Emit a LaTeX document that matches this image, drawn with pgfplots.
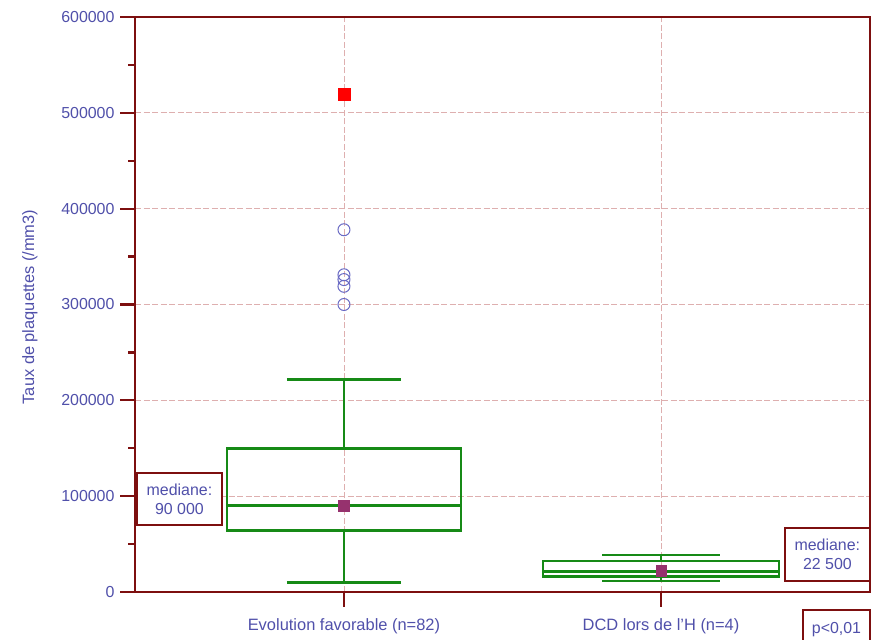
\documentclass[border=0pt]{standalone}
\usepackage{pgfplots}
\pgfplotsset{compat=1.18}
\usepackage{fontspec}
\setmainfont{Liberation Sans}
\definecolor{axiscol}{RGB}{125,15,15}
\definecolor{gridcol}{RGB}{222,175,175}
\definecolor{textcol}{RGB}{80,80,170}
\definecolor{boxgreen}{RGB}{22,138,22}
\definecolor{meancol}{RGB}{150,50,110}
\definecolor{outcol}{RGB}{105,105,195}
\newcommand{\ff}{\fontsize{16.5}{19}\selectfont}
\newcommand{\ft}{\fontsize{16}{19}\selectfont}
\begin{document}
\begin{tikzpicture}
\path[use as bounding box] (0,0) rectangle (877bp,640bp);
\begin{axis}[
  at={(135bp,48bp)}, anchor=south west,
  scale only axis, width=735bp, height=575bp,
  xmin=-0.659, xmax=1.659, ymin=0, ymax=600000,
  xtick={0,1}, xticklabels={Evolution favorable (n=82), DCD lors de l'H (n=4)},
  ytick={0,100000,...,600000}, minor y tick num=1,
  scaled y ticks=false,
  yticklabel style={/pgf/number format/fixed, /pgf/number format/1000 sep={}, /pgf/number format/assume math mode=true, xshift=-2bp, font=\ft},
  tick label style={text=textcol},
  xticklabel style={yshift=-8bp, font=\ff},
  ylabel={Taux de plaquettes (/mm3)},
  every axis y label/.style={at={(rel axis cs:-0.1429,0.4957)}, rotate=90, anchor=center, font=\ff, text=textcol},
  tick align=outside, xtick pos=bottom, ytick pos=left,
  major tick length=15bp, minor tick length=7bp,
  every tick/.style={draw=axiscol, line width=2.2bp},
  axis line style={draw=axiscol, line width=2.6bp},
  xmajorgrids, ymajorgrids,
  major grid style={draw=gridcol, line width=0.8bp, dash pattern=on 6bp off 2.5bp},
  clip=false,
]
% group 1 box plot
\addplot[boxgreen, line width=2.7bp] coordinates {(-0.369,64000) (0.369,64000) (0.369,150000) (-0.369,150000)} -- cycle;
\addplot[boxgreen, line width=2.7bp] coordinates {(-0.369,90000) (0.369,90000)};
\addplot[boxgreen, line width=2.7bp] coordinates {(0,150000) (0,222000)};
\addplot[boxgreen, line width=2.7bp] coordinates {(-0.18,222000) (0.18,222000)};
\addplot[boxgreen, line width=2.7bp] coordinates {(0,64000) (0,10000)};
\addplot[boxgreen, line width=2.7bp] coordinates {(-0.18,10000) (0.18,10000)};
% group 2 box plot
\addplot[boxgreen, line width=2.7bp] coordinates {(0.628,16000) (1.372,16000) (1.372,32500) (0.628,32500)} -- cycle;
\addplot[boxgreen, line width=2.7bp] coordinates {(0.628,21500) (1.372,21500)};
\addplot[boxgreen, line width=2.7bp] coordinates {(1,32500) (1,38600)};
\addplot[boxgreen, line width=2.7bp] coordinates {(0.815,38600) (1.185,38600)};
\addplot[boxgreen, line width=2.7bp] coordinates {(1,16000) (1,11500)};
\addplot[boxgreen, line width=2.7bp] coordinates {(0.815,11500) (1.185,11500)};
% outliers and means
\addplot[only marks, mark=o, mark size=6bp, draw=outcol, line width=1bp] coordinates {
  (0,378000) (0,331000) (0,326000) (0,319000) (0,300000)};
\addplot[only marks, mark=square*, mark size=6bp, color=red] coordinates {(0,519000)};
\addplot[only marks, mark=square*, mark size=5.3bp, color=meancol] coordinates {(0,90000) (1,22500)};
\node[draw=axiscol, line width=2bp, fill=white, text=textcol, align=center,
  minimum width=85bp, minimum height=52bp, inner sep=0pt, font=\ft]
  at (rel axis cs:0.0605,0.1617) {mediane:\\90 000};
\node[draw=axiscol, line width=2bp, fill=white, text=textcol, align=center,
  minimum width=85bp, minimum height=53bp, inner sep=0pt, font=\ft]
  at (rel axis cs:0.942,0.0652) {mediane:\\22 500};
\draw[axiscol, line width=2bp] (rel axis cs:0.9088,-0.0922) rectangle (rel axis cs:1.0,-0.0313);
\node[text=textcol, font=\ft] at (rel axis cs:0.9544,-0.065) {p<0,01};
\end{axis}
\end{tikzpicture}
\end{document}
